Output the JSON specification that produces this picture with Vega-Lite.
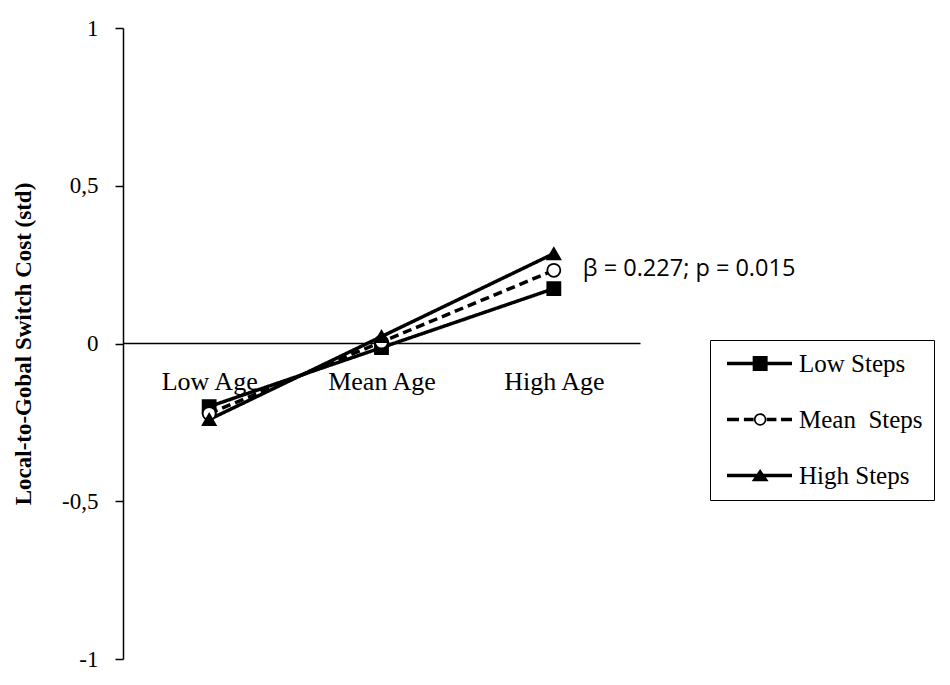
{
  "$schema": "https://vega.github.io/schema/vega-lite/v6.json",
  "width": 517,
  "height": 631,
  "autosize": {"type": "none"},
  "padding": {"left": 123, "top": 28, "right": 310, "bottom": 26},
  "background": "white",
  "config": {"view": {"stroke": null}, "font": "Liberation Serif"},
  "data": {
    "values": [
      {"series": "Low Steps", "age": "Low Age", "value": -0.2},
      {"series": "Low Steps", "age": "Mean Age", "value": -0.013},
      {"series": "Low Steps", "age": "High Age", "value": 0.174},
      {"series": "Mean Steps", "age": "Low Age", "value": -0.222},
      {"series": "Mean Steps", "age": "Mean Age", "value": 0.005},
      {"series": "Mean Steps", "age": "High Age", "value": 0.232},
      {"series": "High Steps", "age": "Low Age", "value": -0.241},
      {"series": "High Steps", "age": "Mean Age", "value": 0.022},
      {"series": "High Steps", "age": "High Age", "value": 0.285}
    ]
  },
  "encoding": {
    "x": {
      "field": "age",
      "type": "ordinal",
      "sort": ["Low Age", "Mean Age", "High Age"],
      "scale": {"type": "point", "padding": 0.5},
      "axis": {
        "title": null,
        "offset": -316,
        "domainColor": "black",
        "domainWidth": 1.5,
        "ticks": false,
        "labelAngle": 0,
        "labelFont": "Liberation Serif",
        "labelFontSize": 26,
        "labelColor": "black",
        "labelPadding": 25
      }
    },
    "y": {
      "field": "value",
      "type": "quantitative",
      "scale": {"domain": [-1, 1], "nice": false, "zero": false},
      "axis": {
        "values": [-1, -0.5, 0, 0.5, 1],
        "grid": false,
        "domainColor": "black",
        "domainWidth": 1.5,
        "tickColor": "black",
        "tickWidth": 1.5,
        "tickSize": 8,
        "labelFont": "Liberation Serif",
        "labelFontSize": 23,
        "labelColor": "black",
        "labelPadding": 17,
        "labelExpr": "replace(toString(datum.value), '.', ',')",
        "title": "Local-to-Gobal Switch Cost (std)",
        "titleFont": "Liberation Serif",
        "titleFontSize": 23,
        "titleFontWeight": "bold",
        "titleColor": "black",
        "titlePadding": 26
      }
    }
  },
  "layer": [
    {
      "mark": {"type": "line", "color": "black", "strokeWidth": 3.5},
      "encoding": {
        "detail": {"field": "series", "type": "nominal"},
        "strokeDash": {
          "field": "series",
          "type": "nominal",
          "scale": {"domain": ["Low Steps", "Mean Steps", "High Steps"], "range": [[1, 0], [9, 5], [1, 0]]},
          "legend": null
        }
      }
    },
    {
      "mark": {"type": "point", "stroke": "black", "strokeWidth": 1.8, "opacity": 1},
      "encoding": {
        "shape": {
          "field": "series",
          "type": "nominal",
          "scale": {"domain": ["Low Steps", "Mean Steps", "High Steps"], "range": ["square", "circle", "triangle-up"]},
          "legend": null
        },
        "fill": {
          "field": "series",
          "type": "nominal",
          "scale": {"domain": ["Low Steps", "Mean Steps", "High Steps"], "range": ["black", "white", "black"]},
          "legend": null
        },
        "size": {"value": 170}
      }
    },
    {
      "data": {"values": [{"age": "High Age", "value": 0.235, "label": "β = 0.227; p = 0.015"}]},
      "mark": {"type": "text", "align": "left", "baseline": "middle", "dx": 29, "font": "Open Sans", "fontSize": 23.5, "color": "black"},
      "encoding": {"text": {"field": "label"}}
    },
    {
      "transform": [{"filter": "false"}],
      "mark": {"type": "point", "filled": true, "color": "black", "opacity": 1},
      "encoding": {
        "x": null,
        "y": null,
        "shape": {
          "field": "series",
          "type": "nominal",
          "scale": {
            "domain": ["Low Steps", "Mean Steps", "High Steps"],
            "range": [
              "M-1,-0.27H9V0.27H-1Z M2.95,-1.15H5.25V1.15H2.95Z",
              "M-1,-0.27H0.85V0.27H-1Z M1.6,-0.27H3.1V0.27H1.6Z M5.1,-0.27H6.6V0.27H5.1Z M7.3,-0.27H9V0.27H7.3Z M3.15,0A0.95,0.95 0 1,1 5.05,0A0.95,0.95 0 1,1 3.15,0Z M3.4,0A0.7,0.7 0 1,0 4.8,0A0.7,0.7 0 1,0 3.4,0Z",
              "M-1,-0.27H9V0.27H-1Z M4.1,-1.0L5.4,0.9L2.8,0.9Z"
            ]
          },
          "legend": {
            "orient": "none",
            "legendX": 587,
            "legendY": 312,
            "title": null,
            "direction": "vertical",
            "symbolSize": 169,
            "symbolFillColor": "black",
            "symbolStrokeWidth": 0,
            "symbolOpacity": 1,
            "labelFont": "Liberation Serif",
            "labelFontSize": 25,
            "labelColor": "black",
            "labelOffset": 53,
            "labelLimit": 300,
            "rowPadding": 30,
            "padding": 11,
            "strokeColor": "black",
            "labelExpr": "datum.label == 'Mean Steps' ? 'Mean\u00a0 Steps' : datum.label"
          }
        }
      }
    }
  ],
  "resolve": {"scale": {"shape": "independent"}, "legend": {"shape": "independent"}}
}
